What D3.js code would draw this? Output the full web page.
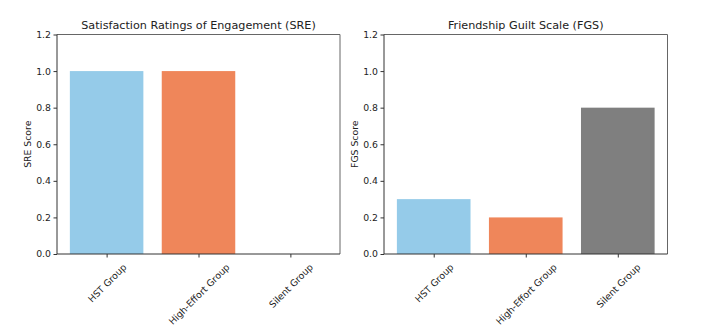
<!DOCTYPE html>
<html><head><meta charset="utf-8">
<script src="https://cdn.jsdelivr.net/npm/d3@7"></script>
<style>body{margin:0;background:#fff}svg{display:block}</style>
</head><body>
<svg id="c" width="701" height="329"></svg>
<script>
const categories = ["HST Group", "High-Effort Group", "Silent Group"];
const sreValues = [1.0, 1.0, 0.0];
const fgsValues = [0.3, 0.2, 0.8];
const colors = ["#95cbe9", "#ef865a", "#7f7f7f"];
const yTicks = [0.0, 0.2, 0.4, 0.6, 0.8, 1.0, 1.2];
const panels = [
  {title: "Satisfaction Ratings of Engagement (SRE)", ylabel: "SRE Score", values: sreValues, left: 57, right: 340},
  {title: "Friendship Guilt Scale (FGS)", ylabel: "FGS Score", values: fgsValues, left: 384, right: 667.5}
];
const plotTop = 34.5, plotBottom = 254;
const font = "DejaVu Sans, sans-serif";
const svg = d3.select("#c");

panels.forEach(p => {
  const g = svg.append("g");
  const x = d3.scaleLinear().domain([-0.54, 2.54]).range([p.left, p.right]);
  const y = d3.scaleLinear().domain([0, 1.2]).range([plotBottom, plotTop]);
  g.selectAll("rect").data(p.values).enter().append("rect")
    .attr("x", (d, i) => x(i - 0.4))
    .attr("width", (d, i) => x(i + 0.4) - x(i - 0.4))
    .attr("y", d => y(d))
    .attr("height", d => y(0) - y(d))
    .attr("fill", (d, i) => colors[i]);
  const ya = g.append("g").attr("transform", `translate(${p.left},0)`)
    .call(d3.axisLeft(y).tickValues(yTicks).tickFormat(d3.format(".1f")).tickSize(3.5).tickPadding(2.5));
  ya.select(".domain").remove();
  ya.selectAll("line").attr("stroke", "#333");
  ya.selectAll("text").attr("font-family", font).attr("font-size", "9.3px").attr("fill", "#222");
  const xa = g.append("g").attr("transform", `translate(0,${plotBottom})`)
    .call(d3.axisBottom(x).tickValues([0, 1, 2]).tickFormat(i => categories[i]).tickSize(3.5));
  xa.select(".domain").remove();
  xa.selectAll("line").attr("stroke", "#333");
  xa.selectAll("text").attr("font-family", font).attr("font-size", "9.3px").attr("fill", "#222")
    .attr("text-anchor", "middle").attr("dy", null)
    .each(function() {
      const t = d3.select(this);
      const L = this.getComputedTextLength();
      const h = 9.3;
      const cy = 8 + (L / 2) * Math.SQRT1_2 + (h / 2) * Math.SQRT1_2;
      t.attr("y", 0).attr("dominant-baseline", "central")
       .attr("transform", `translate(0,${cy}) rotate(-45)`);
    });
  g.append("line").attr("x1", p.left).attr("x2", p.right).attr("y1", plotTop).attr("y2", plotTop).attr("stroke", "#666");
  g.append("line").attr("x1", p.right).attr("x2", p.right).attr("y1", plotTop).attr("y2", plotBottom).attr("stroke", "#666");
  g.append("line").attr("x1", p.left).attr("x2", p.right).attr("y1", plotBottom).attr("y2", plotBottom).attr("stroke", "#333");
  g.append("line").attr("x1", p.left).attr("x2", p.left).attr("y1", plotTop).attr("y2", plotBottom).attr("stroke", "#333");
  g.append("text").attr("x", (p.left + p.right) / 2).attr("y", 29).attr("text-anchor", "middle")
    .attr("font-family", font).attr("font-size", "11.2px").attr("fill", "#222").text(p.title);
  g.append("text").attr("transform", `translate(${p.left - 30},${(plotTop + plotBottom) / 2}) rotate(-90)`)
    .attr("text-anchor", "middle").attr("dominant-baseline", "central")
    .attr("font-family", font).attr("font-size", "9.3px").attr("fill", "#222").text(p.ylabel);
});
</script>
</body></html>
